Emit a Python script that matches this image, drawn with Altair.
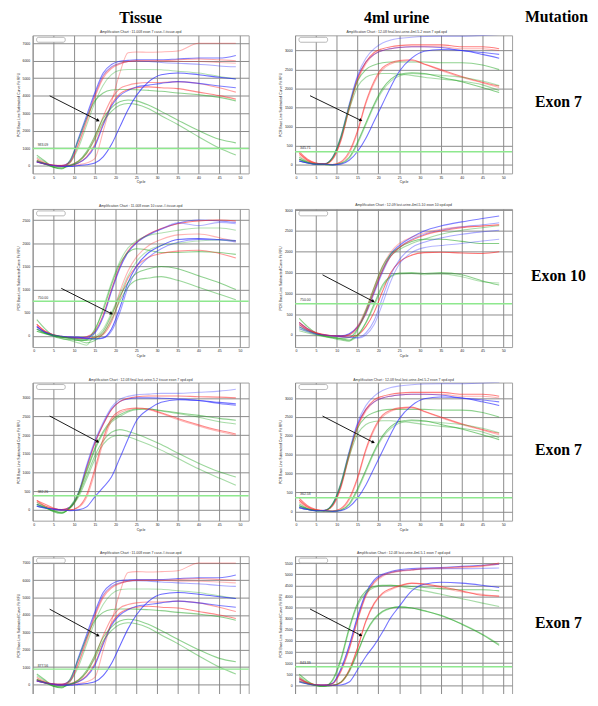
import math
import altair as alt
import pandas as pd

# ---------------- shared axes ----------------
CYCLES = [1, 3, 5, 7, 9, 11, 13, 15, 17, 19, 21, 23, 25, 28, 31, 35, 40, 45, 49]
X_TICKS = [0, 5, 10, 15, 20, 25, 30, 35, 40, 45, 50]
X_DOMAIN = [0, 52.1]

RED = "#ff2b2b"
BLUE = "#2b2bff"
GREEN = "#22a622"

COL_HEADERS = ["Tissue", "4ml urine", "Mutation"]
ROW_LABELS = ["Exon 7", "Exon 10", "Exon 7", "Exon 7"]
Y_TITLE = "PCR Base Line Subtracted Curve Fit RFU"
X_TITLE = "Cycle"

# ---------------- panel A : tissue, exon 7 (rows 1 and 4) ----------------
A_COLORS = [BLUE, BLUE, RED, GREEN, RED, GREEN, RED, RED, BLUE, GREEN, GREEN, BLUE, RED]
A_ALPHAS = [0.6, 0.4, 0.4, 0.5, 0.35, 0.35, 0.45, 0.55, 0.6, 0.5, 0.45, 0.7, 0.3]
A_VALUES = [
    [250, 100, 20, 0, 260, 1540, 2860, 4180, 5300, 5780, 5970, 6020, 6050, 6050, 6050, 6100, 6150, 6150, 6300],
    [200, 80, 0, -20, 200, 1400, 2700, 4050, 5150, 5650, 5850, 5950, 5980, 5950, 5900, 5850, 5800, 5700, 5650],
    [300, 120, 30, 20, 180, 1200, 2500, 3900, 5000, 5550, 5800, 5950, 6000, 6000, 6000, 6050, 6100, 6050, 6000],
    [600, 250, -100, -200, 300, 1450, 2700, 3700, 4150, 4320, 4350, 4350, 4340, 4300, 4250, 4150, 4050, 3900, 3700],
    [200, 100, 0, -50, -20, 50, 150, 400, 1960, 3600, 5270, 6450, 6500, 6480, 6500, 6550, 7000, 7000, 7000],
    [500, 200, -100, -150, 150, 1000, 2300, 3600, 4600, 5200, 5450, 5500, 5500, 5500, 5480, 5400, 5300, 5100, 4950],
    [400, 150, 20, 0, 50, 250, 700, 1600, 2800, 3800, 4400, 4600, 4700, 4750, 4750, 4800, 4700, 4450, 4200],
    [250, 100, 0, -30, 0, 150, 500, 1200, 2400, 3500, 4100, 4350, 4450, 4500, 4450, 4400, 4200, 4000, 3800],
    [200, 80, 0, -20, 0, 150, 450, 1100, 2300, 3400, 4000, 4300, 4500, 4600, 4700, 4800, 4700, 4550, 4450],
    [300, 100, -100, -150, 0, 250, 800, 1700, 2700, 3300, 3650, 3750, 3700, 3450, 3100, 2600, 2000, 1500, 1300],
    [250, 80, -50, -100, 0, 200, 700, 1500, 2500, 3100, 3450, 3550, 3500, 3250, 2850, 2350, 1650, 1000, 600],
    [200, 100, 0, -50, -50, 0, 50, 150, 500, 1200, 2200, 3200, 4000, 4800, 5200, 5300, 5200, 5050, 4950],
    [200, 80, 0, -30, 200, 1200, 2600, 4000, 5100, 5600, 5850, 5950, 6000, 6000, 6000, 5950, 5950, 5900, 5850],
]

# ---------------- panel B : urine, exon 7 (rows 1 and 3) ----------------
B_COLORS = [BLUE, BLUE, RED, RED, GREEN, GREEN, RED, RED, GREEN, GREEN, BLUE]
B_ALPHAS = [0.35, 0.6, 0.6, 0.35, 0.5, 0.4, 0.55, 0.35, 0.55, 0.35, 0.65]
B_VALUES = [
    [150, 60, 20, 20, 200, 750, 1600, 2350, 2800, 3050, 3200, 3280, 3320, 3350, 3370, 3380, 3380, 3400, 3420],
    [100, 50, 20, 30, 180, 700, 1550, 2300, 2700, 2900, 3000, 3050, 3080, 3100, 3100, 3080, 3000, 2950, 2900],
    [350, 150, 50, 20, 150, 650, 1500, 2250, 2700, 2950, 3050, 3100, 3130, 3150, 3150, 3150, 3100, 3100, 3050],
    [300, 120, 30, 20, 140, 620, 1450, 2200, 2650, 2900, 3000, 3050, 3080, 3100, 3100, 3100, 3050, 3050, 3000],
    [200, 80, 30, 20, 200, 750, 1550, 2200, 2500, 2620, 2680, 2700, 2700, 2700, 2700, 2680, 2680, 2620, 2500],
    [150, 70, 20, 20, 180, 700, 1450, 2050, 2300, 2380, 2400, 2400, 2380, 2350, 2300, 2250, 2200, 2100, 1950],
    [300, 120, 40, 20, 10, 80, 350, 900, 1650, 2200, 2550, 2680, 2740, 2760, 2650, 2500, 2320, 2170, 2070],
    [250, 100, 30, 20, 10, 60, 300, 850, 1600, 2150, 2500, 2650, 2720, 2740, 2640, 2480, 2300, 2150, 2030],
    [150, 60, 20, 10, 0, 40, 200, 600, 1100, 1600, 2000, 2250, 2380, 2420, 2400, 2300, 2180, 2030, 1900],
    [100, 50, 20, 10, 0, 30, 170, 550, 1050, 1550, 1950, 2200, 2330, 2400, 2380, 2350, 2300, 2200, 2080],
    [100, 50, 20, 20, 0, 20, 120, 350, 700, 1150, 1600, 2050, 2450, 2800, 2980, 3030, 3000, 2900, 2800],
]

# ---------------- panel C : tissue, exon 10 ----------------
C_COLORS = [BLUE, RED, GREEN, GREEN, BLUE, RED, RED, BLUE, BLUE, GREEN, GREEN, GREEN]
C_ALPHAS = [0.5, 0.6, 0.5, 0.35, 0.35, 0.5, 0.35, 0.7, 0.45, 0.5, 0.45, 0.3]
C_VALUES = [
    [200, 80, 0, -20, -40, -60, -40, 60, 400, 950, 1450, 1800, 2000, 2180, 2300, 2430, 2500, 2480, 2450],
    [250, 100, 20, -20, -40, -50, -20, 100, 450, 1000, 1500, 1830, 2020, 2200, 2320, 2420, 2480, 2500, 2480],
    [350, 150, 0, -60, -80, -100, -80, 150, 550, 1100, 1550, 1800, 1880, 1850, 1800, 1800, 1820, 1800, 1760],
    [100, 50, 0, -50, -100, -150, -200, 100, 600, 1150, 1600, 1900, 2050, 2170, 2220, 2280, 2330, 2330, 2280],
    [200, 80, 10, -20, -40, -50, -30, 80, 420, 980, 1470, 1810, 2010, 2190, 2310, 2440, 2380, 2450, 2420],
    [250, 100, 30, -10, -30, -40, -50, -40, 30, 300, 800, 1250, 1500, 1700, 1780, 1830, 1850, 1780, 1680],
    [200, 80, 20, -20, -30, -40, -50, -30, 60, 400, 950, 1400, 1700, 1950, 2080, 2180, 2200, 2120, 2040],
    [200, 80, 20, -10, -30, -30, -50, -60, -40, 150, 600, 1150, 1500, 1800, 1950, 2080, 2100, 2080, 2060],
    [150, 70, 10, -10, -20, -30, -60, -70, -50, 100, 500, 1050, 1400, 1700, 1880, 2020, 2080, 2070, 2030],
    [150, 60, 20, -20, -50, -80, -100, -50, 100, 450, 850, 1150, 1350, 1450, 1500, 1450, 1300, 1150, 1000],
    [100, 50, 0, -30, -60, -100, -150, -100, 50, 350, 750, 1050, 1200, 1250, 1280, 1200, 1050, 900, 780],
    [150, 60, 10, -20, -40, -60, -80, -20, 150, 500, 900, 1300, 1600, 1850, 1950, 2000, 2050, 2070, 2050],
]

# ---------------- panel D : urine, exon 10 ----------------
D_COLORS = [BLUE, BLUE, GREEN, GREEN, RED, RED, GREEN, GREEN, BLUE, BLUE, RED]
D_ALPHAS = [0.6, 0.4, 0.55, 0.4, 0.55, 0.65, 0.5, 0.35, 0.4, 0.35, 0.3]
D_VALUES = [
    [300, 150, 50, 0, -20, -20, 30, 200, 550, 1050, 1550, 1950, 2150, 2350, 2500, 2620, 2720, 2800, 2860],
    [250, 120, 40, 0, -30, -30, 20, 180, 500, 1000, 1500, 1900, 2100, 2300, 2420, 2520, 2600, 2650, 2700],
    [400, 200, 50, -20, -50, -80, -60, 150, 600, 1150, 1650, 1950, 2100, 2250, 2300, 2300, 2250, 2200, 2200],
    [100, 50, 0, -40, -80, -120, -150, 120, 550, 1100, 1600, 1900, 2050, 2200, 2300, 2420, 2520, 2580, 2630],
    [250, 120, 50, 0, -20, -30, 0, 180, 520, 1050, 1550, 1900, 2100, 2280, 2400, 2500, 2580, 2620, 2650],
    [300, 150, 60, 10, -20, -40, -50, 0, 200, 550, 1050, 1500, 1750, 1920, 1980, 1990, 1970, 1960, 2000],
    [200, 100, 30, -30, -60, -90, -120, 0, 300, 750, 1200, 1420, 1490, 1500, 1480, 1500, 1450, 1300, 1200],
    [150, 80, 20, -30, -70, -100, -140, -20, 280, 700, 1150, 1400, 1470, 1480, 1450, 1470, 1400, 1280, 1250],
    [200, 100, 30, 0, -20, -40, -50, -60, 50, 350, 900, 1450, 1800, 2100, 2230, 2330, 2420, 2480, 2520],
    [150, 80, 20, 0, -20, -40, -60, -80, 0, 250, 750, 1300, 1700, 1980, 2100, 2150, 2200, 2260, 2300],
    [250, 120, 40, 0, -20, -30, 10, 220, 620, 1150, 1650, 2000, 2200, 2350, 2450, 2540, 2600, 2620, 2650],
]

# ---------------- panel E : tissue, exon 7 (row 3) ----------------
E_COLORS = [BLUE, BLUE, RED, GREEN, GREEN, GREEN, GREEN, RED, RED, BLUE]
E_ALPHAS = [0.35, 0.6, 0.55, 0.5, 0.4, 0.45, 0.4, 0.55, 0.35, 0.65]
E_VALUES = [
    [100, 50, 20, 0, 80, 450, 1200, 1850, 2350, 2750, 2960, 3040, 3080, 3100, 3120, 3120, 3150, 3180, 3230],
    [150, 60, 20, 0, 70, 420, 1150, 1800, 2300, 2700, 2900, 2970, 3000, 3000, 2990, 2970, 2930, 2850, 2800],
    [250, 100, 30, 10, 60, 400, 1100, 1780, 2280, 2680, 2900, 2990, 3030, 3050, 3050, 3050, 3030, 3020, 3000],
    [200, 80, -50, -100, 80, 450, 1050, 1650, 2100, 2400, 2550, 2650, 2700, 2700, 2660, 2600, 2530, 2450, 2400],
    [150, 60, -30, -80, 60, 400, 1000, 1600, 2050, 2350, 2500, 2620, 2680, 2700, 2650, 2580, 2480, 2360, 2300],
    [150, 60, -30, -80, 50, 380, 900, 1450, 1850, 2080, 2150, 2100, 2030, 1900, 1750, 1520, 1250, 1020, 880],
    [100, 50, -20, -60, 40, 330, 820, 1350, 1750, 1950, 2000, 1960, 1880, 1750, 1600, 1380, 1100, 850, 660],
    [250, 150, 50, 0, 0, 80, 400, 1100, 1900, 2450, 2650, 2710, 2730, 2700, 2600, 2450, 2280, 2130, 2030],
    [200, 100, 30, 0, 0, 60, 330, 1000, 1800, 2380, 2600, 2680, 2720, 2680, 2580, 2420, 2250, 2100, 2000],
    [100, 50, 20, 0, -20, 0, 80, 350, 600, 880, 1380, 1900, 2380, 2700, 2880, 2950, 2930, 2880, 2840],
]

# ---------------- panel H : urine, exon 7 (row 4) ----------------
H_COLORS = [BLUE, RED, RED, BLUE, GREEN, GREEN, RED, GREEN, GREEN, BLUE, RED]
H_ALPHAS = [0.6, 0.55, 0.3, 0.35, 0.55, 0.4, 0.6, 0.55, 0.35, 0.65, 0.3]
H_VALUES = [
    [300, 100, 20, 10, 100, 750, 1800, 3100, 4150, 4750, 5000, 5120, 5200, 5250, 5280, 5300, 5350, 5400, 5450],
    [350, 120, 30, 10, 80, 650, 1650, 2950, 4050, 4650, 4950, 5080, 5150, 5200, 5250, 5280, 5330, 5380, 5500],
    [250, 100, 20, 10, 70, 600, 1600, 2900, 4000, 4600, 4900, 5050, 5120, 5180, 5230, 5250, 5280, 5350, 5450],
    [200, 80, 20, 10, 90, 700, 1750, 3050, 4100, 4700, 4950, 5080, 5150, 5200, 5240, 5250, 5250, 5260, 5280],
    [500, 200, 0, -40, 250, 1200, 2600, 3700, 4250, 4450, 4500, 4500, 4480, 4450, 4400, 4350, 4300, 4300, 4250],
    [400, 150, 0, -40, 200, 1100, 2500, 3600, 4150, 4400, 4480, 4500, 4450, 4350, 4250, 4100, 3900, 3700, 3550],
    [300, 120, 30, 0, 0, 150, 700, 1700, 2900, 3700, 4150, 4350, 4480, 4600, 4560, 4450, 4250, 4050, 4020],
    [200, 80, 0, -30, 0, 150, 650, 1500, 2400, 3000, 3330, 3480, 3530, 3480, 3350, 3150, 2750, 2280, 1800],
    [150, 60, 0, -30, 0, 130, 600, 1450, 2350, 2950, 3300, 3460, 3520, 3480, 3370, 3130, 2770, 2300, 1850],
    [150, 60, 20, 0, 0, 20, 150, 700, 1300, 1800, 2400, 3050, 3550, 4250, 4550, 4640, 4600, 4500, 4400],
    [200, 100, 20, 0, 0, 120, 650, 1650, 2850, 3650, 4100, 4300, 4450, 4580, 4550, 4400, 4200, 4100, 4000],
]

# ---------------- per-panel axes, thresholds, arrows, titles ----------------
Y_DOMAINS = [[-450, 7450], [-225, 3400], [-240, 2740], [-290, 3030],
             [-290, 3410], [-245, 3410], [-570, 7390], [-400, 5810]]
Y_TICKS = [list(range(0, 7001, 1000)), list(range(0, 3001, 500)),
           list(range(0, 2501, 500)), list(range(0, 3001, 500)),
           list(range(0, 3001, 500)), list(range(0, 3001, 500)),
           list(range(0, 7001, 1000)), list(range(0, 5501, 500))]
THRESHOLDS = [980, 345, 750, 750, 380, 360, 880, 840]
THRESHOLD_LABELS = ["983.09", "345.71", "750.00", "750.00", "382.26", "362.58", "877.56", "843.39"]
# arrow start cycle, start RFU, end cycle, end RFU
ARROWS = [[4.1, 3990, 15.8, 2580], [3.6, 1815, 15.8, 1167],
          [6.9, 1027, 19.0, 481], [6.6, 1446, 18.8, 806],
          [4.1, 2514, 15.7, 1826], [6.6, 2523, 18.8, 1827],
          [4.1, 4335, 15.8, 2814], [3.6, 3434, 15.8, 2250]]
PANEL_TITLES = [
    "Amplification Chart : 11-008 exon 7 case-#-tissue.opd",
    "Amplification Chart : 12-08 final-lost-urine-4ml-5-2 exon 7 opd.opd",
    "Amplification Chart : 11-008 exon 10 case-#-tissue.opd",
    "Amplification Chart : 12-09 lost-urine-4ml-5-10 exon 10 opd.opd",
    "Amplification Chart : 12-08 final-lost-urine-5-2 tissue exon 7 opd.opd",
    "Amplification Chart : 12-08 final-lost-urine-4ml-5-2 exon 7 opd.opd",
    "Amplification Chart : 11-008 exon 7 case-#-tissue.opd",
    "Amplification Chart : 12-08 lost-urine-4ml-5-1 exon 7 opd.opd",
]

PANEL_DATA = [
    (A_VALUES, A_COLORS, A_ALPHAS), (B_VALUES, B_COLORS, B_ALPHAS),
    (C_VALUES, C_COLORS, C_ALPHAS), (D_VALUES, D_COLORS, D_ALPHAS),
    (E_VALUES, E_COLORS, E_ALPHAS), (B_VALUES, B_COLORS, B_ALPHAS),
    (A_VALUES, A_COLORS, A_ALPHAS), (H_VALUES, H_COLORS, H_ALPHAS),
]

W1, W2, W3, H = 219, 220, 2, 140
SERIF = "Liberation Serif"
SANS = "Liberation Sans"

# canvas: fixed size so nothing overflows the page
PAD_LEFT, PAD_TOP = 25, 23
SVG_W, SVG_H = 590, 686


def curves_frame(values, colors, alphas):
    rows = []
    for i, (vals, c, a) in enumerate(zip(values, colors, alphas)):
        for cyc, v in zip(CYCLES, vals):
            rows.append({"cycle": cyc, "rfu": v, "curve": i, "color": c, "alpha": a})
    return pd.DataFrame(rows)


def amp_panel(idx, width, header=None):
    values, colors, alphas = PANEL_DATA[idx]
    last_row = idx >= 6
    ydom = Y_DOMAINS[idx]
    xa = dict(values=X_TICKS, grid=True, labelPadding=2, titlePadding=1)
    if last_row:
        xa.update(labels=False, title="")
    else:
        xa.update(title=X_TITLE)
    X = alt.X("cycle:Q", scale=alt.Scale(domain=X_DOMAIN, nice=False, zero=False),
              axis=alt.Axis(**xa))
    Y = alt.Y("rfu:Q", scale=alt.Scale(domain=ydom, nice=False, zero=False),
              axis=alt.Axis(values=Y_TICKS[idx], grid=True, title=Y_TITLE, format="d",
                            labelPadding=3, titlePadding=2))

    lines = alt.Chart(curves_frame(values, colors, alphas)).mark_line(
        strokeWidth=1.1, interpolate="monotone", clip=True
    ).encode(x=X, y=Y, detail="curve:N",
             color=alt.Color("color:N", scale=None),
             opacity=alt.Opacity("alpha:Q", scale=None))

    thr_df = pd.DataFrame({"rfu": [THRESHOLDS[idx]], "cycle": [1.2],
                           "label": [THRESHOLD_LABELS[idx]]})
    thr = alt.Chart(thr_df).mark_rule(color="#8ee88e", strokeWidth=1.5).encode(y=Y)
    thr_txt = alt.Chart(thr_df).mark_text(
        align="left", baseline="bottom", dy=-1.5, fontSize=3.5, font=SANS, color="#333"
    ).encode(x=X, y=Y, text="label:N")

    a = ARROWS[idx]
    arr_df = pd.DataFrame({"cycle": [a[0]], "rfu": [a[1]], "cycle2": [a[2]], "rfu2": [a[3]]})
    head_df = pd.DataFrame({"cycle": [a[2]], "rfu": [a[3]]})
    dx = (a[2] - a[0]) / (X_DOMAIN[1] - X_DOMAIN[0]) * width
    dy = (a[1] - a[3]) / (ydom[1] - ydom[0]) * H
    ang = math.degrees(math.atan2(dx, -dy)) % 360
    shaft = alt.Chart(arr_df).mark_rule(color="black", strokeWidth=0.9).encode(
        x=X, y=Y, x2="cycle2:Q", y2="rfu2:Q")
    head = alt.Chart(head_df).mark_point(
        shape="triangle-up", filled=True, color="black", opacity=1, size=14, angle=ang
    ).encode(x=X, y=Y)

    legend_box = alt.Chart(thr_df).mark_rect(
        fill="white", stroke="#999", strokeWidth=0.7, cornerRadius=2
    ).encode(x=alt.value(4), x2=alt.value(33), y=alt.value(2), y2=alt.value(7))

    if header is not None:
        title = alt.TitleParams(text=header, subtitle=PANEL_TITLES[idx], font=SERIF,
                                fontSize=16, fontWeight="bold", color="black",
                                subtitleFont=SANS, subtitleFontSize=3.5,
                                subtitleColor="#333", subtitlePadding=5,
                                anchor="middle", frame="group", offset=1.5,
                                dx=-7 if idx == 1 else 0)
    else:
        title = alt.TitleParams(text=PANEL_TITLES[idx], font=SANS, fontSize=3.5,
                                fontWeight="normal", color="#333",
                                anchor="middle", frame="group", offset=1.5)
    return alt.layer(lines, thr, thr_txt, shaft, head, legend_box).properties(
        width=width, height=H, title=title)


def label_panel(text, header=None):
    ch = alt.Chart(pd.DataFrame({"label": [text]})).mark_text(
        font=SERIF, fontSize=16, fontWeight="bold", align="center", baseline="middle",
        color="black"
    ).encode(text="label:N", x=alt.value(W3 / 2 - 1), y=alt.value(H / 2 - 2))
    props = dict(width=W3, height=H, view=alt.ViewBackground(stroke=None))
    if header is not None:
        props["title"] = alt.TitleParams(text=header, font=SERIF, fontSize=16,
                                         fontWeight="bold", color="black",
                                         anchor="middle", frame="group", offset=11,
                                         dx=-3)
    return ch.properties(**props)


panels = []
for r in range(4):
    panels.append(amp_panel(2 * r, W1, COL_HEADERS[0] if r == 0 else None))
    panels.append(amp_panel(2 * r + 1, W2, COL_HEADERS[1] if r == 0 else None))
    panels.append(label_panel(ROW_LABELS[r], COL_HEADERS[2] if r == 0 else None))

chart = alt.concat(
    *panels, columns=3, spacing={"row": 36, "column": 47}, bounds="flush",
    autosize=alt.AutoSizeParams(type="none"),
    padding={"left": PAD_LEFT, "top": PAD_TOP,
             "right": SVG_W - PAD_LEFT, "bottom": SVG_H - PAD_TOP}
).configure_view(stroke="#a0a0a0", strokeWidth=1).configure_axis(
    ticks=False, domain=False, gridColor="#8a8a8a", gridWidth=1,
    labelFont=SANS, labelFontSize=3.5, labelColor="#222",
    titleFont=SANS, titleFontSize=3.5, titleFontWeight="normal", titleColor="#222",
)

chart.save("out.html", embed_options={"renderer": "svg", "actions": False})
